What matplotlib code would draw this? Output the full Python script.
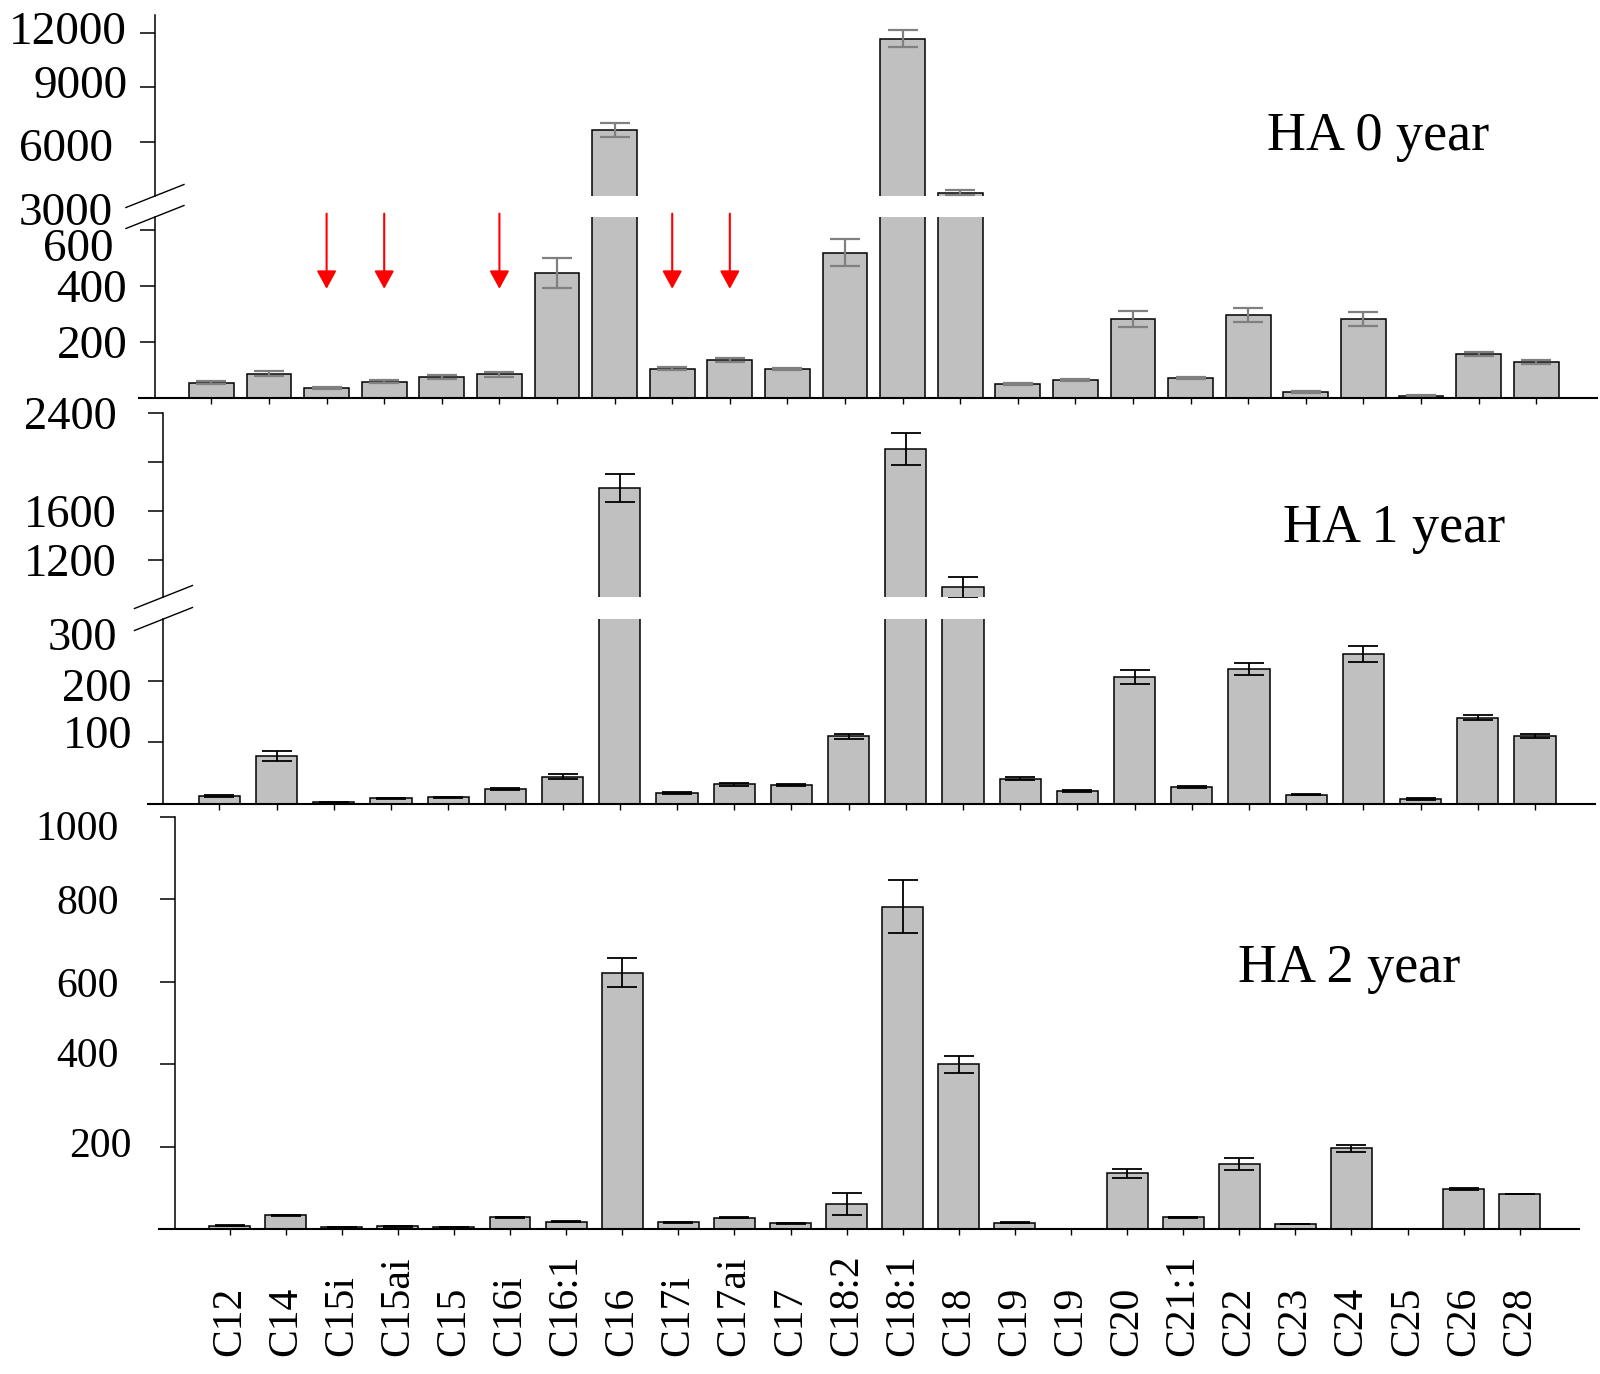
import numpy as np
import matplotlib
matplotlib.use("Agg")
import matplotlib.pyplot as plt
from matplotlib.lines import Line2D
from matplotlib.transforms import blended_transform_factory, ScaledTranslation

plt.rcParams['font.family'] = ['Liberation Serif', 'DejaVu Serif']

# ---------------------------------------------------------------- data
categories = ['C12', 'C14', 'C15i', 'C15ai', 'C15', 'C16i', 'C16:1', 'C16',
              'C17i', 'C17ai', 'C17', 'C18:2', 'C18:1', 'C18', 'C19', 'C19',
              'C20', 'C21:1', 'C22', 'C23', 'C24', 'C25', 'C26', 'C28']

ha0 = [55, 87, 36, 58, 76, 84, 445, 6650, 105, 136, 104, 518, 11700, 3180,
       50, 64, 282, 71, 296, 21, 282, 7, 157, 129]
ha0_err = [4, 9, 3, 5, 7, 8, 53, 400, 4, 8, 4, 49, 450, 135,
           3, 4, 28, 4, 24, 3, 26, 2, 6, 7]

ha1 = [13, 78, 3, 9, 11, 24, 44, 1790, 18, 32, 31, 110, 2110, 980,
       41, 21, 206, 28, 219, 15, 244, 8, 140, 110]
ha1_err = [2, 8, 1, 1, 1, 2, 4, 115, 2, 2, 2, 4, 130, 85,
           2, 2, 11, 2, 10, 1, 13, 1, 4, 3]

ha2 = [8, 33, 5, 6.5, 5, 28, 18, 622, 16, 27, 14, 60, 782, 400,
       15, 0, 135, 28, 158, 12, 196, 0, 97, 85]
ha2_err = [1, 1, 1, 1, 1, 2, 2, 35, 1, 1, 1, 27, 64, 21,
           1, 0, 10, 1, 15, 1, 8, 0, 2, 1]

# arrows in the 0 year panel
marked = ['C15i', 'C15ai', 'C16i', 'C17i', 'C17ai']

# ---------------------------------------------------------------- layout
W, H = 1600, 1374
fig = plt.figure(figsize=(W / 100, H / 100), dpi=100)
x = np.arange(len(categories))
XLIM = (-1.25, 24.05)
SPINE_X = -0.98
BAR_COLOR = '#c0c0c0'


def add_panel(left, right, top, bottom, ylim, xaxis=True):
    ax = fig.add_axes([left / W, 1 - bottom / H, (right - left) / W, (bottom - top) / H])
    ax.set_xlim(*XLIM)
    ax.set_ylim(*ylim)
    ax.patch.set_visible(False)
    ax.spines['top'].set_visible(False)
    ax.spines['right'].set_visible(False)
    ax.spines['left'].set_position(('data', SPINE_X))
    ax.spines['left'].set_linewidth(1.1)
    ax.spines['bottom'].set_linewidth(1.5)
    ax.tick_params(axis='y', direction='out', length=11, width=1.1)
    ax.set_xticks(x)
    ax.tick_params(axis='x', direction='out', length=4.5, width=1.0, labelbottom=False)
    if not xaxis:
        ax.spines['bottom'].set_visible(False)
        ax.tick_params(axis='x', bottom=False)
    return ax


def draw_bars(ax, vals, errs, width, ecolor, elw):
    vals = np.array(vals, dtype=float)
    errs = np.array(errs, dtype=float)
    ax.bar(x, vals, width=width, color=BAR_COLOR, edgecolor='black', linewidth=1.1)
    ok = vals > 0
    ax.errorbar(x[ok], vals[ok], yerr=errs[ok], fmt='none', ecolor=ecolor,
                elinewidth=elw, capsize=11, capthick=elw)


def set_yticks(ax, ticks, labels, size, pad, hide=()):
    ax.set_yticks(ticks)
    ax.set_yticklabels(labels, fontsize=size)
    ax.tick_params(axis='y', pad=pad)
    for i in hide:
        ax.yaxis.get_major_ticks()[i].tick1line.set_visible(False)


def nudge(ax, idx, dx, dy):
    # shift one tick label by (dx, dy) pixels, y measured downwards
    lab = ax.yaxis.get_major_ticks()[idx].label1
    lab.set_transform(lab.get_transform() +
                      ScaledTranslation(dx / 100, -dy / 100, fig.dpi_scale_trans))


def break_marks(ax_top, ax_bot):
    inv = fig.transFigure.inverted()
    for ax, yv in ((ax_top, ax_top.get_ylim()[0]), (ax_bot, ax_bot.get_ylim()[1])):
        x0, y0 = ax.transData.transform((SPINE_X, yv))
        p1 = inv.transform((x0 - 29, y0 - 11.5))
        p2 = inv.transform((x0 + 29, y0 + 11.5))
        fig.add_artist(Line2D([p1[0], p2[0]], [p1[1], p2[1]], color='black',
                              linewidth=1.0, transform=fig.transFigure))


# ---------------------------------------------------------------- HA 0 year
a0_top = add_panel(139.4, 1596.7, 15, 196, (3000, 13000), xaxis=False)
a0_bot = add_panel(139.4, 1596.7, 217, 398, (0, 645))
for ax in (a0_top, a0_bot):
    draw_bars(ax, ha0, ha0_err, 0.78, '#808080', 1.6)
set_yticks(a0_top, [3000, 6000, 9000, 12000], ['3000', '6000', '9000', '12000'], 34, 9, hide=[0])
set_yticks(a0_bot, [200, 400, 600], ['200', '400', '600'], 34, 9)
nudge(a0_top, 0, -14, 13)
nudge(a0_top, 1, -14, 3)
nudge(a0_top, 2, 0, -6)
nudge(a0_top, 3, 0, -5)
nudge(a0_bot, 2, -14, 15)
break_marks(a0_top, a0_bot)

for name in marked:
    i = categories.index(name)
    a0_bot.annotate('', xy=(i, 389), xytext=(i, 657), annotation_clip=False,
                    arrowprops=dict(arrowstyle='-|>,head_length=0.55,head_width=0.3',
                                    mutation_scale=20, color='red', lw=1.5,
                                    shrinkA=0, shrinkB=0))

fig.text(1267 / W, 1 - 150 / H, 'HA 0 year', fontsize=39, ha='left', va='baseline')

# ---------------------------------------------------------------- HA 1 year
a1_top = add_panel(148, 1595, 413, 597, (900, 2400), xaxis=False)
a1_bot = add_panel(148, 1595, 619, 804, (0, 300))
for ax in (a1_top, a1_bot):
    draw_bars(ax, ha1, ha1_err, 0.72, 'black', 1.3)
set_yticks(a1_top, [1200, 1600, 2000, 2400], ['1200', '1600', '', '2400'], 33.5, 22.5)
set_yticks(a1_bot, [100, 200, 300], ['100', '200', '300'], 33.5, 22.5, hide=[2])
nudge(a1_bot, 0, 15, -11)
nudge(a1_bot, 1, 15, 4)
nudge(a1_bot, 2, 0, 15)
break_marks(a1_top, a1_bot)

fig.text(1283 / W, 1 - 542 / H, 'HA 1 year', fontsize=39, ha='left', va='baseline')

# ---------------------------------------------------------------- HA 2 year
a2 = add_panel(159.4, 1578.7, 817, 1229, (0, 1000))
draw_bars(a2, ha2, ha2_err, 0.73, 'black', 1.3)
set_yticks(a2, [200, 400, 600, 800, 1000], ['200', '400', '600', '800', '1000'], 30, 29)
nudge(a2, 0, 13, -4)
nudge(a2, 1, 0, -12)
nudge(a2, 4, 0, 8)

fig.text(1238 / W, 1 - 982 / H, 'HA 2 year', fontsize=39, ha='left', va='baseline')

# category names under the last panel
trans = blended_transform_factory(a2.transData, fig.transFigure)
for i, name in enumerate(categories):
    a2.text(i, 1 - 1356 / H, name, transform=trans, rotation=90,
            ha='center', va='bottom', fontsize=30)

fig.savefig('out.png', dpi=100)
